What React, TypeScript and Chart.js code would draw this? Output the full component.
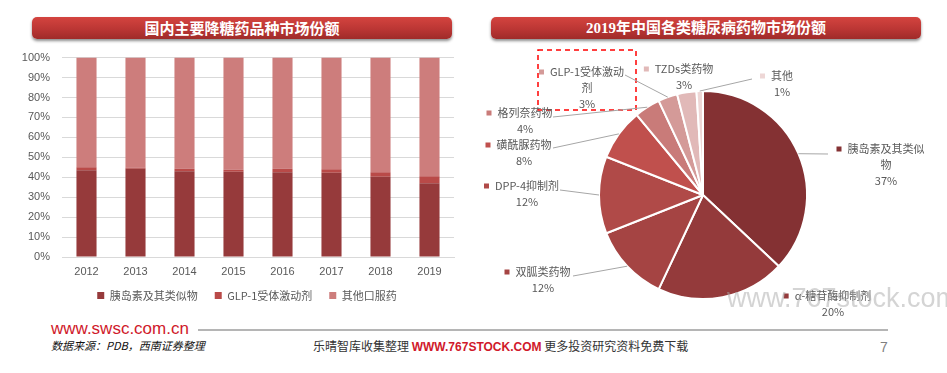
import React, { useEffect, useRef } from "react";
import { Chart, registerables } from "chart.js";

Chart.register(...registerables);

// ---------- Data ----------
const YEARS = ["2012", "2013", "2014", "2015", "2016", "2017", "2018", "2019"];
const INSULIN = [43.5, 44.2, 43.0, 42.7, 42.5, 42.2, 40.2, 37.0];
const GLP1 = [1.5, 0.5, 1.2, 1.1, 1.7, 1.8, 2.3, 3.5];
const OTHER_ORAL = [55.0, 55.3, 55.8, 56.2, 55.8, 56.0, 57.5, 59.5];
const BAR_SERIES = ["胰岛素及其类似物", "GLP-1受体激动剂", "其他口服药"];
const Y_TICKS = [0, 10, 20, 30, 40, 50, 60, 70, 80, 90, 100];

const PIE_LABELS = [
  "胰岛素及其类似物",
  "α-糖苷酶抑制剂",
  "双胍类药物",
  "DPP-4抑制剂",
  "磺酰脲药物",
  "格列奈药物",
  "GLP-1受体激动剂",
  "TZDs类药物",
  "其他",
];
const PIE_VALUES = [37, 20, 12, 12, 8, 4, 3, 3, 1];

// ---------- Styles ----------
const BAR_COLORS = ["#963a3b", "#b94a48", "#cd7d7c"];
const PIE_COLORS = ["#843133", "#943a3b", "#a54443", "#b04a48", "#c0504d", "#c97b79", "#d49a98", "#e1b9b8", "#eed7d6"];
const SANS = "'Liberation Sans', 'Noto Sans CJK SC', sans-serif";
const CJK = "'Noto Sans CJK SC', 'Liberation Sans', sans-serif";

// label layout for the pie (canvas coordinates): text center x, first line y, wrap index, leader end
const PIE_LABEL_LAYOUT = [
  { cx: 416, y: 104, wrap: 7, lx: 358, ly: 109 },
  { cx: 363, y: 251, wrap: 0, lx: null, ly: null },
  { cx: 73, y: 227, wrap: 0, lx: 103, ly: 231 },
  { cx: 57, y: 141, wrap: 0, lx: 90, ly: 145 },
  { cx: 54, y: 100, wrap: 0, lx: 83, ly: 103 },
  { cx: 55, y: 68, wrap: 0, lx: 83, ly: 72 },
  { cx: 117, y: 27, wrap: 9, lx: 155, ly: 30 },
  { cx: 214, y: 24, wrap: 0, lx: null, ly: null },
  { cx: 312, y: 31, wrap: 0, lx: 282, ly: 34 },
];

const pieLabelPlugin = {
  id: "pieLabels",
  afterDraw(chart: any) {
    const ctx = chart.ctx as CanvasRenderingContext2D;
    const meta = chart.getDatasetMeta(0);
    const ds = chart.data.datasets[0];
    ctx.save();
    // dashed highlight box
    ctx.strokeStyle = "#ff0000";
    ctx.lineWidth = 1.5;
    ctx.setLineDash([5, 4]);
    ctx.strokeRect(68, 5, 98, 60);
    ctx.setLineDash([]);

    meta.data.forEach((arc: any, i: number) => {
      const lay = PIE_LABEL_LAYOUT[i];
      const { x, y, startAngle, endAngle, outerRadius } = arc.getProps(
        ["x", "y", "startAngle", "endAngle", "outerRadius"],
        true
      );
      const mid = (startAngle + endAngle) / 2;
      const px = x + Math.cos(mid) * outerRadius;
      const py = y + Math.sin(mid) * outerRadius;
      if (lay.lx !== null) {
        ctx.strokeStyle = "#a6a6a6";
        ctx.lineWidth = 1;
        ctx.beginPath();
        ctx.moveTo(px, py);
        ctx.lineTo(lay.lx as number, lay.ly as number);
        ctx.stroke();
      }
      const name = chart.data.labels[i] as string;
      const lines = lay.wrap ? [name.slice(0, lay.wrap), name.slice(lay.wrap)] : [name];
      lines.push(ds.data[i] + "%");
      ctx.font = "11px " + CJK;
      ctx.fillStyle = "#595959";
      ctx.textAlign = "center";
      ctx.textBaseline = "middle";
      lines.forEach((t, k) => {
        ctx.fillText(t, lay.cx, lay.y + k * 16);
      });
      const w = ctx.measureText(lines[0]).width;
      const left = lay.cx - w / 2;
      ctx.fillStyle = PIE_COLORS[i];
      ctx.fillRect(left - 11, lay.y - 2.5, 5, 5);
    });
    ctx.restore();
  },
};

const legendShiftPlugin = {
  id: "legendShift",
  afterLayout(chart: any) {
    if (chart.legend) {
      chart.legend.left += 15;
      chart.legend.right += 15;
      chart.legend.top -= 4;
      chart.legend.bottom -= 4;
    }
  },
};

function BarChart() {
  const ref = useRef<HTMLCanvasElement>(null);
  useEffect(() => {
    const chart = new Chart(ref.current!, {
      type: "bar",
      data: {
        labels: YEARS,
        datasets: [
          { label: BAR_SERIES[0], data: INSULIN, backgroundColor: BAR_COLORS[0] },
          { label: BAR_SERIES[1], data: GLP1, backgroundColor: BAR_COLORS[1] },
          { label: BAR_SERIES[2], data: OTHER_ORAL, backgroundColor: BAR_COLORS[2] },
        ],
      },
      options: {
        animation: false,
        responsive: false,
        maintainAspectRatio: false,
        layout: { padding: { left: 0, right: 11, top: 12, bottom: 0 } },
        datasets: { bar: { categoryPercentage: 1, barPercentage: 0.41 } },
        scales: {
          x: {
            stacked: true,
            grid: { display: false, drawTicks: false },
            border: { display: true, color: "#d9d9d9" },
            ticks: { color: "#595959", font: { size: 11, family: SANS }, padding: 8 },
            afterFit: (s: any) => {
              s.height = 20;
            },
          },
          y: {
            stacked: true,
            min: 0,
            max: 100,
            afterBuildTicks: (s: any) => {
              s.ticks = Y_TICKS.map((v) => ({ value: v }));
            },
            grid: { color: "#d9d9d9", drawTicks: false },
            border: { display: false },
            ticks: {
              color: "#595959",
              font: { size: 11, family: SANS },
              padding: 12,
              callback: (v: any) => v + "%",
            },
            afterFit: (s: any) => {
              s.width = 52;
            },
          },
        },
        plugins: {
          legend: {
            position: "bottom",
            labels: {
              boxWidth: 7,
              boxHeight: 7,
              padding: 17,
              color: "#595959",
              font: { size: 11, family: CJK },
            },
          },
          tooltip: { enabled: false },
        },
      },
      plugins: [legendShiftPlugin],
    });
    return () => chart.destroy();
  }, []);
  return <canvas ref={ref} width={455} height={276} style={{ position: "absolute", left: 10, top: 39 }} />;
}

function PieChart() {
  const ref = useRef<HTMLCanvasElement>(null);
  useEffect(() => {
    const chart = new Chart(ref.current!, {
      type: "pie",
      data: {
        labels: PIE_LABELS,
        datasets: [
          {
            data: PIE_VALUES,
            backgroundColor: PIE_COLORS,
            borderColor: "#ffffff",
            borderWidth: 2,
          },
        ],
      },
      options: {
        animation: false,
        responsive: false,
        maintainAspectRatio: false,
        layout: { padding: { left: 128, right: 139, top: 45, bottom: 20 } },
        plugins: { legend: { display: false }, tooltip: { enabled: false } },
      },
      plugins: [pieLabelPlugin],
    });
    return () => chart.destroy();
  }, []);
  return <canvas ref={ref} width={477} height={275} style={{ position: "absolute", left: 470, top: 45 }} />;
}

const bannerStyle = (left: number, width: number, serif: boolean): React.CSSProperties => ({
  position: "absolute",
  left,
  top: 17,
  width,
  height: 22,
  borderRadius: 5,
  background: "linear-gradient(#d4443f, #bb3634 55%, #9f2b29)",
  boxShadow: "0 2px 3px rgba(0,0,0,0.45)",
  color: "#ffffff",
  fontWeight: "bold",
  fontSize: 15,
  lineHeight: "22px",
  textAlign: "center",
  fontFamily: serif ? "'Liberation Serif', 'Noto Sans CJK SC', serif" : CJK,
});

export default function App() {
  return (
    <div style={{ position: "absolute", left: 0, top: 0, width: 947, height: 373, background: "#ffffff", overflow: "hidden" }}>
      <div style={bannerStyle(32, 420, false)}>国内主要降糖药品种市场份额</div>
      <div style={bannerStyle(491, 430, true)}>2019年中国各类糖尿病药物市场份额</div>
      <BarChart />
      <PieChart />
      <div
        style={{
          position: "absolute",
          left: 727,
          top: 283,
          fontSize: 27,
          lineHeight: "30px",
          fontFamily: SANS,
          color: "rgba(170,170,170,0.5)",
          whiteSpace: "nowrap",
          pointerEvents: "none",
        }}
      >
        www.767stock.com
      </div>
      <div style={{ position: "absolute", left: 51, top: 319, fontSize: 17, lineHeight: "20px", fontFamily: SANS, color: "#d0192b" }}>
        www.swsc.com.cn
      </div>
      <div style={{ position: "absolute", left: 198, top: 329, width: 690, height: 2, background: "#b5b5b5" }} />
      <div
        style={{
          position: "absolute",
          left: 51,
          top: 338,
          fontSize: 11,
          lineHeight: "14px",
          fontFamily: CJK,
          fontStyle: "italic",
          color: "#111111",
          whiteSpace: "nowrap",
        }}
      >
        数据来源：PDB，西南证券整理
      </div>
      <div style={{ position: "absolute", left: 313, top: 338, fontSize: 12, lineHeight: "15px", whiteSpace: "nowrap", fontFamily: CJK, color: "#333333" }}>
        乐晴智库收集整理{" "}
        <span style={{ color: "#d0192b", fontWeight: "bold", fontFamily: SANS }}>WWW.767STOCK.COM</span>{" "}
        更多投资研究资料免费下载
      </div>
      <div style={{ position: "absolute", left: 880, top: 339, fontSize: 14, lineHeight: "16px", fontFamily: SANS, color: "#7f7f7f" }}>7</div>
    </div>
  );
}
